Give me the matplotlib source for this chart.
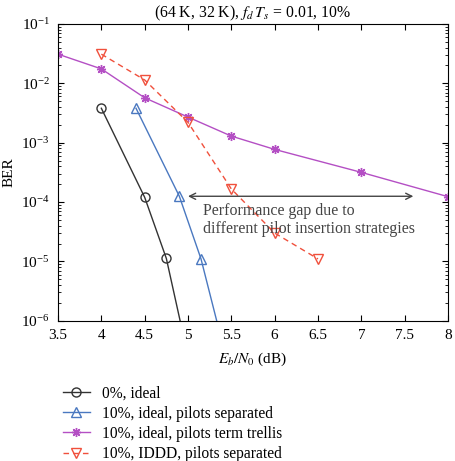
#!/usr/bin/env python3

import matplotlib

matplotlib.use("Agg")
import matplotlib.pyplot as plt

plt.rcParams["font.family"] = ["Liberation Serif", "DejaVu Serif"]
plt.rcParams["mathtext.fontset"] = "stix"
plt.rcParams["font.size"] = 11

# 0%, ideal
ebn0_ideal = [4.0, 4.5, 4.75, 5.0]
ber_ideal = [3.8e-3, 1.2e-4, 1.12e-5, 2.5e-7]

# 10%, ideal, pilots separated
ebn0_sep = [4.4, 4.9, 5.15, 5.4]
ber_sep = [3.8e-3, 1.25e-4, 1.1e-5, 4e-7]

# 10%, ideal, pilots term trellis
ebn0_term = [3.5, 4.0, 4.5, 5.0, 5.5, 6.0, 7.0, 8.0]
ber_term = [3.1e-2, 1.75e-2, 5.7e-3, 2.7e-3, 1.29e-3, 7.7e-4, 3.16e-4, 1.23e-4]

# 10%, IDDD, pilots separated
ebn0_iddd = [4.0, 4.5, 5.0, 5.5, 6.0, 6.5]
ber_iddd = [3.1e-2, 1.14e-2, 2.2e-3, 1.66e-4, 3.0e-5, 1.1e-5]

LABELS = [
    "0%, ideal",
    "10%, ideal, pilots separated",
    "10%, ideal, pilots term trellis",
    "10%, IDDD, pilots separated",
]

fig = plt.figure(figsize=(4.55, 4.61), dpi=100)
ax = fig.add_axes([0.1275, 0.3043, 0.8571, 0.6437])

lw = 1.0
ms = 6.5
ax.semilogy(ebn0_ideal, ber_ideal, color="#333333", lw=lw, marker="o", ms=ms,
            mfc="none", label=LABELS[0])
ax.semilogy(ebn0_sep, ber_sep, color="#4a78c0", lw=lw, marker="^", ms=ms + 0.5,
            mfc="none", label=LABELS[1])
ax.semilogy(ebn0_term, ber_term, color="#b44fc4", lw=lw, marker=(8, 2, 0), ms=ms,
            label=LABELS[2])
ax.semilogy(ebn0_iddd, ber_iddd, color="#f0503c", lw=lw, ls=(0, (4, 3)), marker="v",
            ms=ms + 0.5, mfc="none", label=LABELS[3])

ax.annotate("", xy=(5.0, 1.25e-4), xytext=(7.6, 1.25e-4),
            arrowprops=dict(arrowstyle="<->", color="#444444", lw=1.0,
                            shrinkA=0, shrinkB=0))
ax.text(5.17, 9.5e-5, "Performance gap due to\ndifferent pilot insertion strategies",
        color="#444444", va="top", ha="left", linespacing=1.1, fontsize=11.5)

ax.set_xlim(3.5, 8)
ax.set_ylim(1e-6, 1e-1)
ax.set_xticks([3.5, 4, 4.5, 5, 5.5, 6, 6.5, 7, 7.5, 8])
ax.set_xticklabels(["3.5", "4", "4.5", "5", "5.5", "6", "6.5", "7", "7.5", "8"])
ax.tick_params(which="both", direction="in", top=True, right=True)
ax.tick_params(which="major", length=4, pad=6)
ax.tick_params(which="minor", length=2)
ax.set_xlabel("$E_b/N_0$ (dB)", labelpad=6)
ax.set_ylabel("BER", labelpad=4)
ax.set_title("(64 K, 32 K), $f_d\\,T_s$ = 0.01, 10%", fontsize=11.3, pad=5)

fig.legend(loc="upper left", bbox_to_anchor=(0.125, 0.178), frameon=False,
           handlelength=1.7, handletextpad=0.8, labelspacing=0.28, borderaxespad=0,
           fontsize=11.2)

fig.savefig("out.png", dpi=100)
